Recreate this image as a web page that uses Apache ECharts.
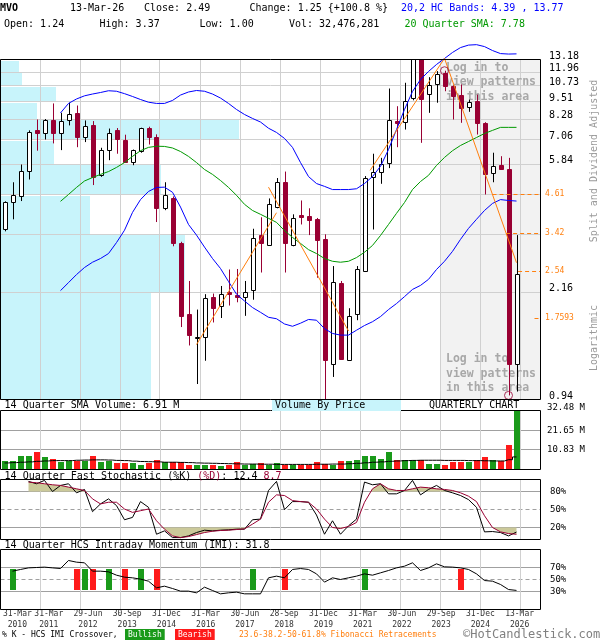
<!DOCTYPE html>
<html>
<head>
<meta charset="utf-8">
<script src="https://cdn.jsdelivr.net/npm/echarts@6/dist/echarts.min.js"></script>
<style>
  html, body { margin: 0; padding: 0; background: #fff; }
  #chart { width: 600px; height: 640px; }
</style>
</head>
<body>
<div id="chart"></div>
<script>
// ---------------- quarterly data, Q1 2010 .. Q1 2026 (65 quarters) ----------------
const ticker = 'MVO';
const lastDate = '13-Mar-26';
const lastVolumeShares = 32476281;

const dateTickIndex = [0, 4, 9, 14, 19, 24, 29, 34, 39, 44, 49, 54, 59, 64];
const dateTickText = ['31-Mar\n2010', '31-Mar\n2011', '29-Jun\n2012', '30-Sep\n2013', '31-Dec\n2014',
  '31-Mar\n2016', '30-Jun\n2017', '28-Sep\n2018', '31-Dec\n2019', '31-Mar\n2021', '30-Jun\n2022',
  '29-Sep\n2023', '31-Dec\n2024', '13-Mar\n2026'];
const gridQuarterIndex = [4, 9, 14, 19, 24, 29, 34, 39, 44, 49, 54, 59, 64];

const openPx = [3.52, 4.36, 4.56, 5.55, 7.60, 7.47, 8.21, 7.42, 8.25, 8.71,
  7.24, 7.90, 5.37, 6.53, 7.60, 7.08, 5.96, 6.49, 7.74, 7.24,
  4.17, 4.51, 3.18, 1.83, 1.52, 1.53, 2.09, 1.94, 2.16, 2.12,
  2.09, 2.20, 3.36, 3.13, 4.20, 5.08, 3.13, 3.93, 3.92, 3.81,
  3.26, 1.24, 2.33, 1.28, 1.82, 2.55, 5.30, 5.51, 5.89, 8.16,
  8.10, 9.79, 14.2, 10.10, 10.91, 11.89, 10.77, 9.97, 9.13, 9.53,
  8.06, 5.47, 5.83, 5.65, 1.24];
const highPx = [4.38, 5.08, 5.83, 7.60, 8.27, 8.30, 9.37, 8.71, 9.42, 9.22,
  8.21, 8.17, 6.64, 7.71, 7.74, 7.35, 6.55, 7.76, 7.82, 7.37,
  5.08, 4.55, 3.20, 2.36, 1.89, 2.13, 2.14, 2.27, 2.58, 2.59,
  2.36, 3.54, 3.87, 4.48, 5.25, 5.52, 3.96, 4.41, 4.15, 3.85,
  3.39, 2.65, 2.36, 1.91, 2.65, 5.33, 6.34, 6.14, 10.52, 9.17,
  11.00, 15.0, 14.6, 11.49, 12.04, 12.08, 10.80, 10.86, 9.66, 10.04,
  8.10, 6.39, 6.22, 6.14, 3.37];
const lowPx = [3.47, 3.81, 4.39, 5.19, 6.49, 7.08, 6.87, 6.52, 7.90, 6.67,
  6.94, 4.97, 5.30, 6.03, 6.34, 5.91, 5.80, 6.39, 6.81, 3.73,
  4.09, 3.09, 1.65, 1.43, 1.06, 1.27, 1.71, 1.77, 1.95, 2.00,
  1.80, 2.04, 2.52, 3.10, 4.15, 2.52, 3.09, 3.66, 3.37, 2.42,
  0.94, 1.12, 1.28, 1.27, 1.74, 2.53, 3.52, 5.02, 5.67, 6.67,
  7.65, 9.60, 6.90, 8.71, 9.42, 10.30, 8.27, 8.06, 8.78, 7.36,
  4.62, 5.08, 5.60, 0.9703, 1.00];
const closePx = [4.36, 4.61, 5.55, 7.52, 7.47, 8.21, 7.47, 8.17, 8.65, 7.21,
  7.85, 5.31, 6.55, 7.47, 7.12, 5.94, 6.53, 7.74, 7.21, 4.15,
  4.59, 3.18, 1.80, 1.55, 1.53, 2.07, 1.92, 2.13, 2.13, 2.09,
  2.17, 3.30, 3.18, 4.30, 5.10, 3.18, 3.86, 3.89, 3.78, 3.24,
  1.28, 2.35, 1.29, 1.80, 2.58, 5.26, 5.51, 5.86, 8.21, 8.02,
  9.53, 14.2, 9.71, 10.80, 11.79, 10.71, 9.91, 9.06, 9.49, 8.06,
  5.43, 5.76, 5.61, 1.24, 2.49];

// 20,2 HC bands and 20-quarter SMA, first value at quarter index 7
const bandStart = 7;
const hcUpper = [8.70, 9.37, 9.70, 9.94, 10.08, 10.20, 10.34, 10.30, 10.11, 9.89,
  9.66, 9.46, 9.37, 9.37, 9.59, 10.00, 10.24, 10.36, 10.30, 10.08,
  9.77, 9.37, 8.94, 8.60, 8.34, 8.11, 7.73, 7.48, 7.14, 6.66,
  5.92, 5.31, 5.03, 4.92, 4.80, 4.80, 4.80, 4.83, 5.03, 5.31,
  5.75, 6.55, 7.65, 8.94, 10.28, 11.28, 12.01, 12.68, 13.28, 13.92,
  14.46, 14.74, 14.79, 14.57, 14.13, 13.80, 13.75, 13.77];
const hcLower = [2.19, 2.33, 2.48, 2.62, 2.73, 2.81, 2.92, 3.18, 3.50, 4.02,
  4.44, 4.73, 4.88, 4.89, 4.70, 4.19, 3.66, 3.37, 3.07, 2.81,
  2.60, 2.35, 2.13, 2.02, 1.92, 1.85, 1.78, 1.76, 1.69, 1.66,
  1.70, 1.75, 1.74, 1.63, 1.57, 1.55, 1.55, 1.61, 1.67, 1.72,
  1.79, 1.89, 1.98, 2.09, 2.21, 2.28, 2.39, 2.58, 2.75, 2.97,
  3.26, 3.55, 3.81, 4.08, 4.31, 4.44, 4.41, 4.39];
const sma20 = [4.38, 4.62, 4.88, 5.13, 5.27, 5.40, 5.52, 5.70, 5.92, 6.21,
  6.49, 6.66, 6.72, 6.71, 6.63, 6.45, 6.21, 5.92, 5.61, 5.40,
  5.15, 4.88, 4.59, 4.28, 4.08, 3.96, 3.84, 3.72, 3.49, 3.31,
  3.16, 3.01, 2.92, 2.81, 2.75, 2.73, 2.75, 2.83, 2.95, 3.11,
  3.36, 3.66, 3.99, 4.34, 4.80, 5.11, 5.36, 5.79, 6.16, 6.49,
  6.76, 6.97, 7.19, 7.42, 7.60, 7.78, 7.78, 7.78];

// volume by price: price band edges and relative volume traded inside each band (bottom to top)
const priceGrid = [0.94, 2.16, 3.39, 4.61, 5.84, 7.06, 8.28, 9.51, 10.73, 11.96, 13.18];
const priceLabelValues = [0.94, 2.16, 5.84, 7.06, 8.28, 9.51, 10.73, 11.96, 13.18];
const vbpVolume = [150, 184, 89, 160, 53, 238, 36, 55, 21, 18];
const vbpScaleMax = 540;

// Fibonacci retracement levels and where each dashed level begins
const fibLevel = [4.61, 3.42, 2.54, 1.7593];
const fibFrom = [61.0, 62.7, 64.2, 66.25];
// trend segments: [[quarter, price], [quarter, price]]
const trendSegments = [
  [[24, 1.44], [34, 4.01]],
  [[33, 4.89], [43, 1.60]],
  [[45.7, 5.57], [55, 13.3]],
  [[55, 13.3], [64, 2.72]]
];
const swingPoints = [[55, 12.08], [63, 0.9703]];
const patternZoneFrom = 54.44;

// volume (millions of shares) and its 14-quarter SMA
const volumeM = [4.6, 4.9, 7.3, 7.3, 9.5, 6.8, 6.0, 4.0, 4.6, 4.9,
  4.9, 7.3, 4.0, 4.6, 3.5, 3.5, 3.5, 2.7, 3.5, 5.5,
  4.0, 4.0, 4.0, 2.7, 2.7, 2.7, 2.4, 1.8, 2.4, 4.0,
  2.7, 3.3, 3.5, 2.7, 3.5, 2.7, 2.7, 2.7, 2.7, 4.0,
  3.3, 2.7, 4.6, 4.6, 5.1, 7.7, 7.7, 6.0, 9.5, 5.5,
  5.5, 5.0, 5.0, 3.0, 3.0, 2.5, 4.0, 4.0, 4.0, 5.0,
  7.1, 5.0, 4.9, 13.5, 32.48];
const volumeSma = [3.6, 3.8, 4.0, 4.2, 4.5, 4.7, 4.9, 4.9, 4.9, 5.1,
  5.2, 5.3, 5.3, 5.2, 5.0, 4.9, 4.6, 4.4, 4.3, 4.2,
  4.0, 4.0, 3.9, 3.8, 3.6, 3.5, 3.4, 3.3, 3.2, 3.1,
  3.0, 3.0, 2.9, 2.9, 2.8, 2.8, 2.8, 2.8, 2.8, 2.9,
  2.9, 3.0, 3.0, 3.2, 3.4, 3.7, 4.0, 4.2, 4.5, 4.7,
  4.9, 5.0, 5.1, 5.1, 5.1, 5.0, 5.0, 5.0, 4.9, 4.9,
  4.8, 4.7, 4.7, 5.4, 6.91];
const volumeGrid = [10.83, 21.65];
const volumeLabelValues = [10.83, 21.65, 32.48];

// 14-quarter fast stochastic, first value at quarter index 3
const stochStart = 3;
const stochK = [96.8, 92.9, 98.5, 80.0, 90.1, 92.9, 77.8, 83.4, 46.4, 59.3,
  67.7, 56.5, 32.9, 36.8, 63.2, 53.6, 8.8, 14.4, 3.2, 3.2,
  6.0, 11.6, 15.5, 14.4, 15.5, 16.1, 17.2, 17.2, 32.9, 34.0,
  81.7, 96.8, 49.7, 63.2, 63.2, 62.1, 40.8, 8.8, 31.2, 8.8,
  22.8, 34.0, 95.7, 91.2, 92.9, 76.1, 76.1, 81.7, 98.5, 74.4,
  83.4, 90.1, 81.7, 77.8, 73.3, 66.5, 53.6, 12.7, 13.3, 11.6,
  6.0, 12.4];
const stochD = [95.7, 94.6, 92.9, 91.2, 90.1, 87.3, 84.5, 81.7, 67.7, 59.3,
  62.1, 62.1, 50.8, 45.2, 48.0, 50.8, 31.2, 17.2, 6.0, 3.2,
  4.9, 8.2, 11.6, 13.8, 15.0, 15.5, 16.6, 17.8, 25.6, 34.0,
  62.1, 74.4, 73.3, 64.9, 63.2, 62.1, 50.8, 34.0, 20.0, 18.3,
  21.7, 28.4, 62.1, 84.5, 92.9, 84.5, 81.7, 81.7, 84.5, 87.3,
  86.2, 84.5, 83.4, 81.7, 77.8, 72.2, 63.2, 39.6, 20.0, 12.7,
  9.9, 8.7];
const stochGrid = [20, 50, 80];
const stochZones = [[80, 1], [20, -1]];   // overbought above 80, oversold below 20

// 14-quarter HCS intraday momentum, first value at quarter index 1
const imiStart = 1;
const imi = [63.9, 66.7, 69.4, 70.0, 70.6, 69.4, 68.3, 81.7, 78.9, 77.8,
  63.9, 63.9, 62.8, 57.2, 53.9, 52.8, 50.6, 47.2, 36.1, 38.9,
  35.0, 30.6, 30.6, 27.8, 37.2, 31.7, 26.1, 27.8, 28.9, 26.1,
  26.1, 26.1, 52.8, 55.6, 52.8, 66.7, 68.3, 66.7, 59.4, 45.6,
  52.8, 50.0, 52.8, 55.6, 59.4, 57.2, 61.1, 65.0, 69.4, 72.2,
  77.8, 65.0, 69.4, 76.1, 71.1, 70.6, 69.4, 66.7, 59.4, 48.3,
  47.2, 41.7, 33.3, 31.8];
const imiGrid = [30, 50, 70];
// %K / IMI crossovers: quarter index and direction (1 bullish, 0 bearish)
const crossIndex = [1, 9, 10, 11, 13, 15, 17, 19, 31, 35, 45, 57];
const crossBull = [1, 0, 1, 0, 1, 0, 1, 0, 1, 0, 1, 0];
const signalBarRange = [32, 67];

// ---------------- styling ----------------
const FONT = '"DejaVu Sans Mono", monospace';
const f = (size, weight) => (weight ? weight + ' ' : '') + size + 'px ' + FONT;
const X0 = -0.5, X1 = 67;
const DOWN = '#990033', GREEN = '#1a9a1a', RED = '#ff1a1a', ORANGE = '#ff7f0e';
const BLUE = '#0000ff', SMA_GREEN = '#009900', GRID = '#d0d0d0', MIDGRAY = '#a0a0a0', CYAN = '#c8f4fb';
const KHAKI = '#cbc99a';

const gridBoxes = [
  { left: 0.5, top: 59.5, width: 540, height: 340 },
  { left: 0.5, top: 410.5, width: 540, height: 59 },
  { left: 0.5, top: 479.5, width: 540, height: 60 },
  { left: 0.5, top: 549.5, width: 540, height: 60 },
  { left: 3.5, top: 605, width: 520, height: 1 }
];

// ---------------- helpers ----------------
function hLines(gi, values, styleOf, z) {
  return {
    type: 'custom', xAxisIndex: gi, yAxisIndex: gi, z, silent: true,
    data: values.map(v => [X0, v]),
    renderItem(params, api) {
      const cs = params.coordSys;
      const y = Math.round(api.coord([api.value(0), api.value(1)])[1] - 0.5) + 0.5;
      return { type: 'line', shape: { x1: cs.x, y1: y, x2: cs.x + cs.width, y2: y }, style: styleOf(params.dataIndex) };
    }
  };
}
function vLines(gi, yRef, z) {
  return {
    type: 'custom', xAxisIndex: gi, yAxisIndex: gi, z, silent: true,
    data: gridQuarterIndex.map(k => [k, yRef]),
    renderItem(params, api) {
      const cs = params.coordSys;
      const x = Math.floor(api.coord([api.value(0), api.value(1)])[0] + 3.5) + 0.5;
      return { type: 'line', shape: { x1: x, y1: cs.y, x2: x, y2: cs.y + cs.height }, style: { stroke: GRID, lineWidth: 1 } };
    }
  };
}
function sideLabels(gi, values, textOf, opts) {
  return {
    type: 'custom', xAxisIndex: gi, yAxisIndex: gi, z: 7, silent: true,
    data: values.map(v => [X0, v]),
    renderItem(params, api) {
      const cs = params.coordSys;
      const y = api.coord([api.value(0), api.value(1)])[1];
      const dy = typeof opts.dy === 'function' ? opts.dy(api.value(1)) : opts.dy;
      return {
        type: 'text', x: cs.x + cs.width + opts.dx, y: y + dy,
        style: { text: textOf(api.value(1)), font: opts.font, fill: opts.color || '#000', align: 'left', verticalAlign: 'middle' }
      };
    }
  };
}
const seriesAt = (start, arr) => arr.map((v, i) => [start + i, v]);

// ---------------- series ----------------
const series = [];

// shaded pattern zone at the right of the price panel
series.push({
  type: 'custom', xAxisIndex: 0, yAxisIndex: 0, z: 1, silent: true,
  data: [[patternZoneFrom, 1]],
  renderItem(params, api) {
    const cs = params.coordSys;
    const x = Math.round(api.coord([api.value(0), api.value(1)])[0]) + 0.5;
    return {
      type: 'group', children: [
        { type: 'rect', shape: { x, y: cs.y + 0.5, width: cs.x + cs.width - x - 0.5, height: cs.height - 1 }, style: { fill: '#f2f2f2' } },
        { type: 'line', shape: { x1: x, y1: cs.y, x2: x, y2: cs.y + cs.height }, style: { stroke: '#9a9a9a', lineWidth: 1 } }
      ]
    };
  }
});

// volume by price
series.push({
  type: 'custom', xAxisIndex: 4, yAxisIndex: 0, z: 1, silent: true,
  data: vbpVolume.map((v, i) => [v, priceGrid[i], priceGrid[i + 1]]),
  renderItem(params, api) {
    const p0 = api.coord([0, api.value(2)]);
    const p1 = api.coord([api.value(0), api.value(1)]);
    const y0 = Math.round(p0[1]) + 1, y1 = Math.round(p1[1]);
    return { type: 'rect', shape: { x: p0[0] + 0.5, y: y0, width: p1[0] - p0[0], height: y1 - y0 }, style: { fill: CYAN } };
  }
});

// price grid
series.push(hLines(0, priceGrid, () => ({ stroke: GRID, lineWidth: 1 }), 1.5));
series.push(vLines(0, 1, 1.5));
series.push(sideLabels(0, priceLabelValues, v => v.toFixed(2), { dx: 8.5, dy: -3.5, font: f(10) }));

// candles: wick from low to high, body from open to close (hollow when the quarter closed up)
series.push({
  type: 'custom', xAxisIndex: 0, yAxisIndex: 0, z: 3, clip: true, silent: true,
  data: openPx.map((o, i) => [i, o, closePx[i], lowPx[i], highPx[i]]),
  encode: { x: 0, y: [1, 2, 3, 4] },
  renderItem(params, api) {
    const k = api.value(0), o = api.value(1), c = api.value(2);
    const up = c >= o;
    const pO = api.coord([k, o]), pC = api.coord([k, c]);
    const pL = api.coord([k, api.value(3)]), pH = api.coord([k, api.value(4)]);
    const cx = Math.round(pO[0]);
    const top = Math.round(Math.min(pO[1], pC[1])) + 0.5;
    const bot = Math.round(Math.max(pO[1], pC[1])) + 0.5;
    const col = up ? '#000000' : DOWN;
    return {
      type: 'group', children: [
        { type: 'line', shape: { x1: cx + 0.5, y1: pH[1], x2: cx + 0.5, y2: pL[1] }, style: { stroke: col, lineWidth: 1 } },
        { type: 'rect', shape: { x: cx - 1.5, y: top, width: 4, height: bot - top },
          style: { fill: up ? '#ffffff' : DOWN, stroke: col, lineWidth: 1 } }
      ]
    };
  }
});

// bands and SMA
const lineOpts = (data, color) => ({
  type: 'line', xAxisIndex: 0, yAxisIndex: 0, z: 4, data, symbol: 'none', clip: false, silent: true,
  lineStyle: { color, width: 1 }
});
series.push(lineOpts(seriesAt(bandStart, hcUpper), BLUE));
series.push(lineOpts(seriesAt(bandStart, hcLower), BLUE));
series.push(lineOpts(seriesAt(bandStart, sma20), SMA_GREEN));
trendSegments.forEach(seg => series.push(lineOpts(seg, ORANGE)));

// Fibonacci retracement levels
series.push({
  type: 'custom', xAxisIndex: 0, yAxisIndex: 0, z: 4, silent: true,
  data: fibLevel.map((v, i) => [fibFrom[i], v]),
  renderItem(params, api) {
    const cs = params.coordSys;
    const p = api.coord([api.value(0), api.value(1)]);
    const y = Math.round(p[1] - 0.5) + 0.5;
    return {
      type: 'group', children: [
        { type: 'line', shape: { x1: p[0], y1: y, x2: cs.x + cs.width, y2: y }, style: { stroke: ORANGE, lineWidth: 1, lineDash: [4, 3] } },
        { type: 'text', x: cs.x + cs.width + 4.5, y: y - 1, style: { text: String(api.value(1)), font: f(8), fill: ORANGE, verticalAlign: 'middle' } }
      ]
    };
  }
});

// swing high / low markers
series.push({
  type: 'scatter', xAxisIndex: 0, yAxisIndex: 0, z: 5, silent: true, clip: false,
  data: swingPoints, symbol: 'circle', symbolSize: 8,
  itemStyle: { color: 'rgba(0,0,0,0)', borderColor: DOWN, borderWidth: 1 }
});

// volume panel
series.push(hLines(1, volumeGrid, () => ({ stroke: MIDGRAY, lineWidth: 1 }), 1.5));
series.push(vLines(1, 1, 1.5));
series.push({
  type: 'custom', xAxisIndex: 1, yAxisIndex: 1, z: 3, silent: true,
  data: volumeM.map((v, i) => [i, v, closePx[i] >= openPx[i] ? 1 : 0]),
  renderItem(params, api) {
    const p = api.coord([api.value(0), api.value(1)]);
    const b = api.coord([api.value(0), 0]);
    const cx = Math.round(p[0]);
    const y = Math.round(p[1]);
    return { type: 'rect', shape: { x: cx - 3, y, width: 6, height: Math.round(b[1]) - y },
      style: { fill: api.value(2) ? GREEN : RED } };
  }
});
series.push({
  type: 'line', xAxisIndex: 1, yAxisIndex: 1, z: 4, step: 'middle', symbol: 'none', silent: true,
  data: seriesAt(0, volumeSma), lineStyle: { color: '#000', width: 1 }
});
series.push(sideLabels(1, volumeLabelValues, v => v.toFixed(2) + ' M',
  { dx: 6.5, dy: v => (v >= 32 ? -2.5 : 0), font: f(9) }));

// stochastic panel
series.push(hLines(2, stochGrid, i => (stochGrid[i] === 50
  ? { stroke: MIDGRAY, lineWidth: 1, lineDash: [4, 3] } : { stroke: MIDGRAY, lineWidth: 1 }), 1.5));
series.push(vLines(2, 50, 1.5));
// shading between %D and the 80 / 20 levels while %D is beyond them
series.push({
  type: 'custom', xAxisIndex: 2, yAxisIndex: 2, z: 2, silent: true,
  data: stochZones,
  renderItem(params, api) {
    const th = api.value(0), dir = api.value(1);
    const beyond = v => (v - th) * dir > 0;
    const polys = [];
    let edge = [];
    const close = () => {
      if (edge.length > 1) {
        const pts = [[edge[0][0], th]].concat(edge, [[edge[edge.length - 1][0], th]]);
        polys.push({ type: 'polygon', shape: { points: pts.map(p => api.coord(p)) }, style: { fill: KHAKI } });
      }
      edge = [];
    };
    for (let i = 0; i < stochD.length; i++) {
      const x = stochStart + i, v = stochD[i], inside = beyond(v);
      if (i > 0) {
        const pv = stochD[i - 1], pin = beyond(pv);
        if (pin !== inside) {
          const xc = x - 1 + (th - pv) / (v - pv);
          edge.push([xc, th]);
          if (!inside) close();
        }
      }
      if (inside) edge.push([x, v]);
    }
    close();
    return { type: 'group', children: polys };
  }
});
series.push({ type: 'line', xAxisIndex: 2, yAxisIndex: 2, z: 4, symbol: 'none', silent: true,
  data: seriesAt(stochStart, stochK), lineStyle: { color: '#000', width: 1 } });
series.push({ type: 'line', xAxisIndex: 2, yAxisIndex: 2, z: 4, symbol: 'none', silent: true,
  data: seriesAt(stochStart, stochD), lineStyle: { color: DOWN, width: 1 } });
series.push(sideLabels(2, stochGrid, v => v + '%', { dx: 9.5, dy: 0, font: f(9) }));

// IMI panel
series.push(hLines(3, imiGrid, i => (imiGrid[i] === 50
  ? { stroke: MIDGRAY, lineWidth: 1, lineDash: [4, 3] } : { stroke: MIDGRAY, lineWidth: 1 }), 1.5));
series.push(vLines(3, 50, 1.5));
series.push({
  type: 'custom', xAxisIndex: 3, yAxisIndex: 3, z: 3, silent: true,
  data: crossIndex.map((k, i) => [k, crossBull[i]]),
  renderItem(params, api) {
    const k = api.value(0);
    const top = api.coord([k, signalBarRange[1]]);
    const bot = api.coord([k, signalBarRange[0]]);
    const y0 = Math.round(top[1]);
    return { type: 'rect', shape: { x: Math.round(top[0]) - 3, y: y0, width: 6, height: Math.round(bot[1]) - y0 },
      style: { fill: api.value(1) ? GREEN : RED } };
  }
});
series.push({ type: 'line', xAxisIndex: 3, yAxisIndex: 3, z: 4, symbol: 'none', silent: true,
  data: seriesAt(imiStart, imi), lineStyle: { color: '#000', width: 1 } });
series.push(sideLabels(3, imiGrid, v => v + '%', { dx: 9.5, dy: 0, font: f(9) }));

// ---------------- axes ----------------
const xAxis = [0, 1, 2, 3].map(g => ({ type: 'value', gridIndex: g, min: X0, max: X1, show: false }));
xAxis.push({ type: 'value', gridIndex: 0, min: 0, max: vbpScaleMax, show: false, position: 'top' });
const dateCategories = openPx.map(() => '');
dateTickIndex.forEach((k, i) => { dateCategories[k] = dateTickText[i]; });
xAxis.push({
  type: 'category', gridIndex: 4, data: dateCategories,
  axisLine: { show: false }, axisTick: { show: false }, splitLine: { show: false },
  axisLabel: { interval: 0, fontSize: 8, fontFamily: 'DejaVu Sans Mono', color: '#333', lineHeight: 11, margin: 2.5 }
});
const yAxis = [
  { type: 'log', gridIndex: 0, min: priceGrid[0], max: priceGrid[priceGrid.length - 1], show: false },
  { type: 'value', gridIndex: 1, min: 0, max: volumeLabelValues[2], show: false },
  { type: 'value', gridIndex: 2, min: 0, max: 100, show: false },
  { type: 'value', gridIndex: 3, min: 0, max: 100, show: false },
  { type: 'value', gridIndex: 4, show: false }
];

// ---------------- text ----------------
const last = closePx.length - 1;
const prevClose = closePx[last - 1];
const change = closePx[last] - prevClose;
const txt = (x, y, text, s = {}, z = 10) => ({
  type: 'text', x, y, z, silent: true,
  style: Object.assign({ text, font: f(10), fill: '#000', align: 'left', verticalAlign: 'middle' }, s)
});
const fmtInt = n => String(n).replace(/\B(?=(\d{3})+(?!\d))/g, ',');
const graphics = [
  txt(0, 8.5, ticker, { font: f(10, 'bold') }),
  txt(70, 8.5, lastDate),
  txt(144, 8.5, 'Close: ' + closePx[last].toFixed(2)),
  txt(249.5, 8.5, 'Change: ' + change.toFixed(2) + ' {+' + (change / prevClose * 100).toFixed(1) + ' %}'),
  txt(401, 8.5, '20,2 HC Bands: ' + hcLower[hcLower.length - 1].toFixed(2) + ' , ' + hcUpper[hcUpper.length - 1].toFixed(2), { fill: BLUE }),
  txt(4, 24.5, 'Open: ' + openPx[last].toFixed(2)),
  txt(99.5, 24.5, 'High: ' + highPx[last].toFixed(2)),
  txt(199.5, 24.5, 'Low: ' + lowPx[last].toFixed(2)),
  txt(289, 24.5, 'Vol: ' + fmtInt(lastVolumeShares)),
  txt(404.5, 24.5, '20 Quarter SMA: ' + sma20[sma20.length - 1].toFixed(2), { fill: SMA_GREEN }),

  { type: 'text', x: 594, y: 161, rotation: Math.PI / 2, z: 10, silent: true,
    style: { text: 'Split and Dividend Adjusted', font: f(10), fill: '#9a9a9a', align: 'center', verticalAlign: 'middle' } },
  { type: 'text', x: 594, y: 338, rotation: Math.PI / 2, z: 10, silent: true,
    style: { text: 'Logarithmic', font: f(10), fill: '#9a9a9a', align: 'center', verticalAlign: 'middle' } },

  { type: 'text', x: 446, y: 60.5, z: 1.8, silent: true,
    style: { text: 'Log in to\nview patterns\nin this area', font: f(11.5, 'bold'), fill: '#a8a8a8', lineHeight: 14.5, verticalAlign: 'top' } },
  { type: 'text', x: 446, y: 352, z: 1.8, silent: true,
    style: { text: 'Log in to\nview patterns\nin this area', font: f(11.5, 'bold'), fill: '#a8a8a8', lineHeight: 14.5, verticalAlign: 'top' } },

  txt(4.6, 405.5, '14 Quarter SMA Volume: ' + volumeSma[volumeSma.length - 1].toFixed(2) + ' M'),
  { type: 'rect', z: 9, silent: true, shape: { x: 272, y: 400, width: 129, height: 11 }, style: { fill: CYAN } },
  txt(275, 405.5, 'Volume By Price'),
  txt(429, 405.5, 'QUARTERLY CHART'),

  { type: 'text', x: 4.6, y: 476, z: 10, silent: true,
    style: {
      text: '{a|14 Quarter Fast Stochastic (%K) }{b|(%D)}{a|: ' + stochK[stochK.length - 1].toFixed(1) + ' }{b|' + stochD[stochD.length - 1].toFixed(1) + '}',
      rich: { a: { font: f(10), fill: '#000' }, b: { font: f(10), fill: DOWN } },
      verticalAlign: 'middle'
    } },
  txt(4.6, 545.5, '14 Quarter HCS Intraday Momentum (IMI): ' + imi[imi.length - 1].toFixed(1)),

  txt(2, 634.5, '% K - HCS IMI Crossover,', { font: f(8) }),
  txt(125, 634.5, 'Bullish', { font: f(8), fill: '#fff', backgroundColor: GREEN, padding: [2, 3, 1, 3] }),
  txt(175, 634.5, 'Bearish', { font: f(8), fill: '#fff', backgroundColor: RED, padding: [2, 3, 1, 3] }),
  txt(239, 634.5, '23.6-38.2-50-61.8% Fibonacci Retracements', { font: f(8), fill: ORANGE }),
  txt(463, 634.5, '\u00A9HotCandlestick.com', { font: f(12), fill: '#808080' })
];

const chart = echarts.init(document.getElementById('chart'), null, { renderer: 'canvas', width: 600, height: 640 });
chart.setOption({
  animation: false,
  backgroundColor: '#ffffff',
  grid: gridBoxes.map((g, i) => Object.assign({
    show: i < 4, borderColor: '#000', borderWidth: 1, backgroundColor: 'transparent', z: 6
  }, g)),
  xAxis, yAxis, series,
  graphic: { elements: graphics }
});
</script>
</body>
</html>
